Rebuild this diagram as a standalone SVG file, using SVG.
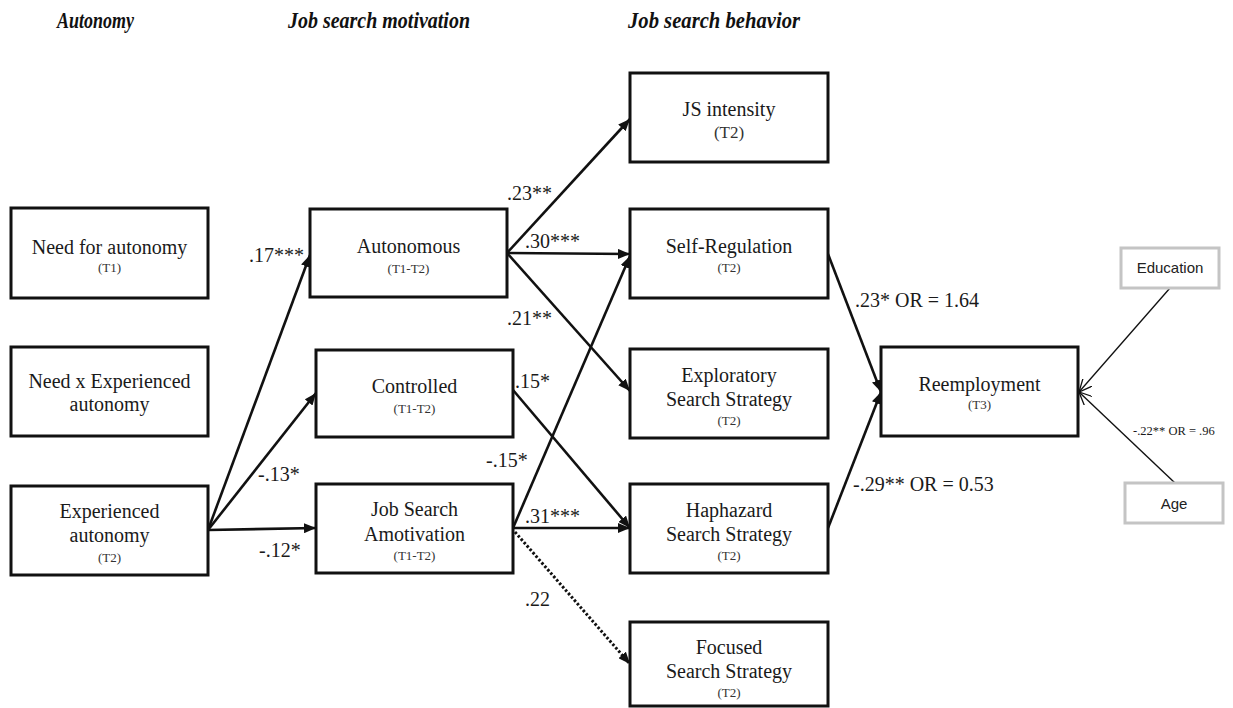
<svg xmlns="http://www.w3.org/2000/svg" width="1233" height="708" viewBox="0 0 1233 708">
<defs>
<style>
.box{fill:#fff;stroke:#111;stroke-width:3}
.gbox{fill:#fff;stroke:#c4c4c4;stroke-width:3}
.t{font-family:"Liberation Serif","Times New Roman",serif;font-size:20px;fill:#1a1a1a;text-anchor:middle}
.s{font-family:"Liberation Serif","Times New Roman",serif;font-size:13px;fill:#333;text-anchor:middle}
.lab{font-family:"Liberation Serif","Times New Roman",serif;font-size:20px;fill:#1a1a1a}
.sans{font-family:"Liberation Sans",Arial,sans-serif;font-size:15px;fill:#222;text-anchor:middle}
.hdr{font-family:"Liberation Serif","Times New Roman",serif;font-size:23px;font-weight:bold;font-style:italic;fill:#111}
.ln{fill:none;stroke:#111;stroke-width:2.6;marker-end:url(#arr)}
.dot{fill:none;stroke:#111;stroke-width:3;stroke-dasharray:2.5 2;marker-end:url(#arr)}
.thin{fill:none;stroke:#111;stroke-width:1.4;marker-end:url(#open)}
</style>
<marker id="arr" viewBox="0 0 12 10" refX="12" refY="5" markerWidth="12" markerHeight="10" orient="auto" markerUnits="userSpaceOnUse">
<path d="M0,0 L12,5 L0,10 z" fill="#111"/>
</marker>
<marker id="open" viewBox="0 0 14 12" refX="13" refY="6" markerWidth="14" markerHeight="12" orient="auto" markerUnits="userSpaceOnUse">
<path d="M0,0 L13,6 L0,12" fill="none" stroke="#111" stroke-width="1.3"/>
</marker>
</defs>
<rect width="1233" height="708" fill="#fff"/>

<g id="headers">
<text class="hdr" x="57" y="28" textLength="77" lengthAdjust="spacingAndGlyphs">Autonomy</text>
<text class="hdr" x="288" y="28" textLength="182" lengthAdjust="spacingAndGlyphs">Job search motivation</text>
<text class="hdr" x="628" y="28" textLength="172" lengthAdjust="spacingAndGlyphs">Job search behavior</text>
</g>

<g id="connectors">
<path class="ln" d="M208,530 L310,255"/>
<path class="ln" d="M208,530 L316,393"/>
<path class="ln" d="M208,530 L316,528"/>
<path class="ln" d="M507,253 L630,119"/>
<path class="ln" d="M507,253 L630,254"/>
<path class="ln" d="M507,253 L630,391"/>
<path class="ln" d="M513,390 L630,528"/>
<path class="ln" d="M513,528 L630,256"/>
<path class="ln" d="M513,528 L630,528"/>
<path class="dot" d="M515,532 L630,664"/>
<path class="ln" d="M828,254 L881,392"/>
<path class="ln" d="M828,528 L881,392"/>
<path class="thin" d="M1170,288 L1079,392"/>
<path class="thin" d="M1175,483 L1079,392"/>
</g>

<g id="edge-labels">
<text class="lab" x="249" y="262">.17***</text>
<text class="lab" x="258" y="481">-.13*</text>
<text class="lab" x="259" y="557">-.12*</text>
<text class="lab" x="507" y="200">.23**</text>
<text class="lab" x="525" y="248">.30***</text>
<text class="lab" x="507" y="325">.21**</text>
<text class="lab" x="515" y="388">.15*</text>
<text class="lab" x="486" y="467">-.15*</text>
<text class="lab" x="525" y="523">.31***</text>
<text class="lab" x="525" y="606">.22</text>
<text class="lab" x="855" y="307">.23* OR = 1.64</text>
<text class="lab" x="853" y="491">-.29** OR = 0.53</text>
<text class="lab" x="1133" y="435" style="font-size:12.5px">-.22** OR = .96</text>
</g>

<g id="need-for-autonomy">
<rect class="box" x="11" y="208" width="197" height="90"/>
<text class="t" x="109.5" y="254">Need for autonomy</text>
<text class="s" x="109.5" y="272">(T1)</text>
</g>
<g id="need-x-experienced">
<rect class="box" x="11" y="347" width="197" height="89"/>
<text class="t" x="109.5" y="388">Need x Experienced</text>
<text class="t" x="109.5" y="411">autonomy</text>
</g>
<g id="experienced-autonomy">
<rect class="box" x="11" y="486" width="197" height="89"/>
<text class="t" x="109.5" y="518">Experienced</text>
<text class="t" x="109.5" y="542">autonomy</text>
<text class="s" x="109.5" y="562">(T2)</text>
</g>

<g id="autonomous">
<rect class="box" x="310" y="209" width="197" height="88"/>
<text class="t" x="408.5" y="253">Autonomous</text>
<text class="s" x="408.5" y="273">(T1-T2)</text>
</g>
<g id="controlled">
<rect class="box" x="316" y="350" width="197" height="87"/>
<text class="t" x="414.5" y="393">Controlled</text>
<text class="s" x="414.5" y="413">(T1-T2)</text>
</g>
<g id="amotivation">
<rect class="box" x="316" y="484" width="197" height="89"/>
<text class="t" x="414.5" y="516">Job Search</text>
<text class="t" x="414.5" y="541">Amotivation</text>
<text class="s" x="414.5" y="560">(T1-T2)</text>
</g>

<g id="js-intensity">
<rect class="box" x="630" y="73" width="198" height="89"/>
<text class="t" x="729" y="116">JS intensity</text>
<text class="s" x="729" y="138" style="font-size:17px">(T2)</text>
</g>
<g id="self-regulation">
<rect class="box" x="630" y="209" width="198" height="89"/>
<text class="t" x="729" y="253">Self-Regulation</text>
<text class="s" x="729" y="272">(T2)</text>
</g>
<g id="exploratory">
<rect class="box" x="630" y="349" width="198" height="89"/>
<text class="t" x="729" y="382">Exploratory</text>
<text class="t" x="729" y="406">Search Strategy</text>
<text class="s" x="729" y="425">(T2)</text>
</g>
<g id="haphazard">
<rect class="box" x="630" y="484" width="198" height="89"/>
<text class="t" x="729" y="517">Haphazard</text>
<text class="t" x="729" y="541">Search Strategy</text>
<text class="s" x="729" y="560">(T2)</text>
</g>
<g id="focused">
<rect class="box" x="630" y="622" width="198" height="84"/>
<text class="t" x="729" y="654">Focused</text>
<text class="t" x="729" y="678">Search Strategy</text>
<text class="s" x="729" y="697">(T2)</text>
</g>

<g id="reemployment">
<rect class="box" x="881" y="347" width="197" height="89"/>
<text class="t" x="979.5" y="391">Reemployment</text>
<text class="s" x="979.5" y="409">(T3)</text>
</g>
<g id="education">
<rect class="gbox" x="1121" y="248" width="98" height="40"/>
<text class="sans" x="1170" y="273">Education</text>
</g>
<g id="age">
<rect class="gbox" x="1125" y="483" width="98" height="40"/>
<text class="sans" x="1174" y="509">Age</text>
</g>
</svg>
